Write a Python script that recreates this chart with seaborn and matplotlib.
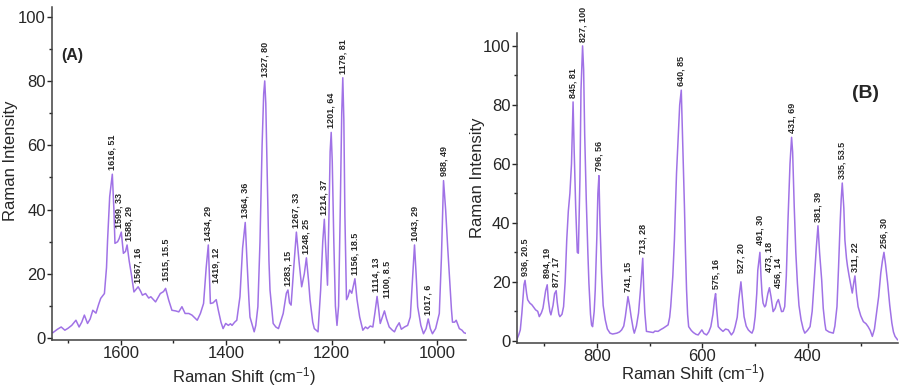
# Raman spectra, panels (A) 1730-945 cm-1 and (B) 952-230 cm-1
import matplotlib
matplotlib.use('Agg')
import matplotlib.pyplot as plt
import seaborn as sns
import pandas as pd
from matplotlib.ticker import MultipleLocator

sns.set_style('ticks')
plt.rcParams['font.family'] = ['Liberation Sans', 'DejaVu Sans']
plt.rcParams['mathtext.default'] = 'regular'
plt.rcParams['axes.spines.top'] = False
plt.rcParams['axes.spines.right'] = False

# ---- data ----
shift_a = [1729, 1720, 1713, 1706, 1700, 1693, 1685, 1679, 1674, 1669, 1663, 1658, 1653, 1647,
           1642, 1638, 1631, 1627, 1625, 1621, 1616, 1613, 1611, 1606, 1603, 1599, 1595, 1591,
           1588, 1584, 1580, 1575, 1567, 1562, 1559, 1553, 1547, 1543, 1534, 1525, 1519, 1515,
           1509, 1503, 1496, 1490, 1484, 1478, 1471, 1465, 1455, 1449, 1443, 1438, 1434, 1430,
           1425, 1419, 1415, 1410, 1406, 1401, 1396, 1392, 1389, 1384, 1380, 1374, 1369, 1364,
           1361, 1357, 1355, 1347, 1344, 1340, 1336, 1332, 1329, 1327, 1325, 1322, 1319, 1317,
           1311, 1306, 1301, 1292, 1286, 1283, 1280, 1277, 1272, 1267, 1262, 1257, 1252, 1248,
           1244, 1241, 1236, 1233, 1226, 1221, 1217, 1214, 1211, 1208, 1205, 1203, 1201, 1199,
           1196, 1193, 1190, 1187, 1184, 1181, 1179, 1177, 1175, 1172, 1169, 1166, 1162, 1156,
           1152, 1147, 1141, 1136, 1132, 1127, 1122, 1118, 1114, 1111, 1108, 1104, 1100, 1096,
           1091, 1085, 1081, 1077, 1072, 1068, 1062, 1056, 1051, 1047, 1043, 1040, 1037, 1031,
           1026, 1021, 1017, 1013, 1009, 1003, 996, 992, 988, 984, 980, 977, 973, 971, 967, 964,
           958, 953, 949, 945]
int_a = [1.7, 2.8, 3.5, 2.5, 3.1, 4.0, 5.6, 3.5, 5.0, 7.2, 4.6, 6.0, 8.7, 7.8,
         10.5, 12.4, 13.9, 22, 30.5, 44, 51, 40, 29.5, 30, 31, 33, 26.4, 27,
         29, 24, 20, 14.4, 16, 14.5, 13.4, 13.9, 12.5, 12.9, 11.3, 13.9, 14.5, 15.5,
         11.8, 8.7, 8.5, 8.2, 9.8, 7.7, 7.7, 7.2, 5.6, 7.7, 10.8, 22, 29, 10.8,
         11, 12, 8.7, 5, 3, 4.6, 4.0, 4.5, 4.0, 5.0, 5.6, 12.9, 28, 36,
         25.3, 12, 6.6, 2, 4, 9.8, 30, 60, 76, 80, 73, 48, 24, 15,
         4.6, 3.5, 3, 7.7, 14, 15, 11, 10.3, 22, 33, 24, 16, 20, 25,
         18, 11.8, 5, 3, 2, 15, 30, 37, 27, 16.5, 40, 58, 64, 55,
         30, 10, 4, 10, 38, 70, 81, 68, 38, 12, 13, 15, 14, 18.5,
         12, 6.6, 2.5, 3.5, 3, 3.8, 3.5, 8, 13, 9, 4.6, 6.5, 8.5, 6,
         3.5, 2.5, 2, 3.5, 4.8, 2.8, 3.5, 4, 6.6, 18, 29, 20, 9.8, 4,
         1.4, 3, 6, 3, 1.4, 3, 7.7, 25, 49, 40, 28, 20, 9, 5, 5, 5.6,
         3, 2.5, 1.7, 1.5]

shift_b = [952, 948, 945, 942, 938, 936, 933, 931, 927, 923, 916, 912, 909, 905, 902, 897,
           894, 892, 889, 887, 883, 880, 877, 875, 872, 870, 866, 863, 860, 857, 854, 851,
           848, 845, 843, 840, 837, 835, 832, 830, 827, 825, 823, 820, 817, 815, 812, 810,
           808, 805, 803, 800, 798, 796, 794, 791, 788, 784, 780, 775, 770, 762, 757, 753,
           749, 746, 741, 738, 735, 731, 729, 725, 721, 717, 713, 711, 709, 706, 700, 693,
           690, 684, 679, 674, 670, 665, 662, 660, 656, 653, 649, 645, 643, 640, 638, 634,
           632, 630, 628, 626, 621, 617, 612, 608, 604, 601, 597, 592, 588, 584, 580, 577,
           575, 573, 570, 566, 561, 556, 551, 545, 541, 538, 534, 531, 527, 524, 521, 517,
           513, 509, 506, 503, 500, 497, 495, 491, 489, 487, 485, 482, 480, 476, 473, 470,
           466, 462, 459, 456, 453, 450, 447, 444, 441, 438, 434, 431, 429, 426, 423, 420,
           417, 413, 409, 406, 401, 396, 392, 388, 384, 381, 378, 374, 371, 368, 366, 360,
           356, 352, 349, 345, 342, 339, 337, 335, 332, 330, 327, 325, 322, 319, 316, 313,
           311, 308, 305, 300, 295, 290, 286, 282, 278, 274, 270, 266, 262, 259, 256, 253,
           249, 245, 241, 238, 235, 230]
int_b = [0.3, 2.0, 3.7, 9.4, 19, 20.5, 16, 13.9, 12.8, 12.2, 10.5, 10, 8.2, 9.5, 11.1, 17,
         19, 14, 10, 8.8, 12, 16, 17, 13, 9, 8.2, 9, 11.6, 20, 34.2, 44, 50,
         60, 81, 65, 45, 30, 29.7, 55, 85, 100, 92, 70, 47.8, 30, 19.6, 9, 5.4,
         4.8, 10, 17.3, 35, 50, 56, 40, 23, 12, 7.1, 4, 2.6, 2.3, 2.6, 3.0, 3.7,
         5, 8.2, 15, 12, 8.2, 4, 2.6, 5, 9.4, 18, 28, 17, 9.4, 3.2, 3, 2.8,
         3.3, 3.2, 3.8, 4.3, 4.8, 5.4, 8, 11.6, 22, 34.2, 56.8, 72, 80, 85, 72, 45.5,
         30, 17.3, 9, 4.8, 3.5, 2.8, 2.2, 2, 3, 3.7, 2.5, 2, 3, 4.8, 9, 14,
         16, 11, 4.8, 4, 3.2, 4, 3.7, 2, 3, 4.8, 8, 14, 20, 14, 8.2, 5,
         3.7, 3, 2.6, 4, 8.2, 16, 24, 30, 22, 16, 12.8, 11.5, 12, 16, 18, 15,
         9.9, 11, 13, 14, 12, 9.9, 10, 11.6, 22, 39.9, 60, 69, 64, 45.5, 30, 19.6,
         12, 7.1, 4, 2.6, 3.5, 4.8, 10, 20.7, 32, 39, 30, 20.7, 11, 6, 3.7, 3,
         2.8, 2.6, 5, 11.6, 25, 39.9, 48, 53.5, 45, 34.2, 28, 25.2, 22, 19, 16.2, 20,
         22, 16, 11.6, 8.5, 6.5, 5.8, 4.8, 3.5, 1.5, 4, 9.4, 15, 23, 27, 30, 26,
         19.6, 12, 6, 3, 1.5, 0.3]

peaks_a = [1616, 1599, 1588, 1567, 1515, 1434, 1419, 1364, 1327, 1283, 1267, 1248,
           1214, 1201, 1179, 1156, 1114, 1100, 1043, 1017, 988]
heights_a = [51, 33, 29, 16, 15.5, 29, 12, 36, 80, 15, 33, 25,
             37, 64, 81, 18.5, 13, 8.5, 29, 6, 49]
peaks_b = [936, 894, 877, 845, 827, 796, 741, 713, 640, 575, 527, 491, 473, 456,
           431, 381, 335, 311, 256]
heights_b = [20.5, 19, 17, 81, 100, 56, 15, 28, 85, 16, 20, 30, 18, 14,
             69, 39, 53.5, 22, 30]

# label nudges (points) where the original lifts or spreads crowded labels
NUDGE = {1599: (-1.5, 0), 1588: (1.5, 0), 1419: (0, 9), 1114: (-1, 0), 1100: (1.5, 6),
         1515: (0, 2), 473: (0, 8), 456: (0, 5), 527: (0, 3), 491: (0, 2), 894: (0, 2)}

LINE = '#a072e6'
INK = '#262626'

fig = plt.figure(figsize=(9, 3.87), dpi=100)
axA = fig.add_axes([0.058, 0.121, 0.460, 0.861])
axB = fig.add_axes([0.574, 0.114, 0.424, 0.801])

panels = [
    (axA, shift_a, int_a, peaks_a, heights_a, (1730, 945), (-0.6, 103), '(A)', (1712, 88), 11.5,
     (-0.082, 0.537), (0.464, -0.076)),
    (axB, shift_b, int_b, peaks_b, heights_b, (952, 229), (-0.7, 104.4), '(B)', (316, 84), 14,
     (-0.084, 0.532), (0.462, -0.063)),
]

for ax, xs, ys, px, py, xlim, ylim, tag, tagpos, tagsize, ylab_xy, xlab_xy in panels:
    df = pd.DataFrame({'shift': xs, 'intensity': ys})
    sns.lineplot(data=df, x='shift', y='intensity', ax=ax, color=LINE, linewidth=1.1)
    ax.set_xlim(*xlim)
    ax.set_ylim(*ylim)
    ax.xaxis.set_major_locator(MultipleLocator(200))
    ax.xaxis.set_minor_locator(MultipleLocator(100))
    ax.yaxis.set_major_locator(MultipleLocator(20))
    ax.yaxis.set_minor_locator(MultipleLocator(10))
    ax.tick_params(which='major', direction='out', length=3.5, width=1, pad=1,
                   labelsize=12, colors=INK)
    ax.tick_params(which='minor', direction='out', length=2, width=1, colors=INK)
    for s in ('left', 'bottom'):
        ax.spines[s].set_color('#404040')
        ax.spines[s].set_linewidth(1.1)
    ax.set_xlabel('Raman Shift (cm$^{-1}$)', fontsize=12, color=INK)
    ax.set_ylabel('Raman Intensity', fontsize=12, color=INK)
    ax.yaxis.set_label_coords(*ylab_xy)
    ax.xaxis.set_label_coords(*xlab_xy)
    for x, y in zip(px, py):
        dx, dy = NUDGE.get(x, (0, 0))
        ax.annotate(f'{x}, {y:g}', xy=(x, y), xytext=(dx, 3 + dy), textcoords='offset points',
                    rotation=90, ha='center', va='bottom', fontsize=6.5, fontweight='bold',
                    color=INK, annotation_clip=False)
    ax.text(tagpos[0], tagpos[1], tag, fontsize=tagsize, fontweight='bold', color=INK,
            ha='left', va='center')

fig.savefig('out.png', dpi=100)
plt.close(fig)
